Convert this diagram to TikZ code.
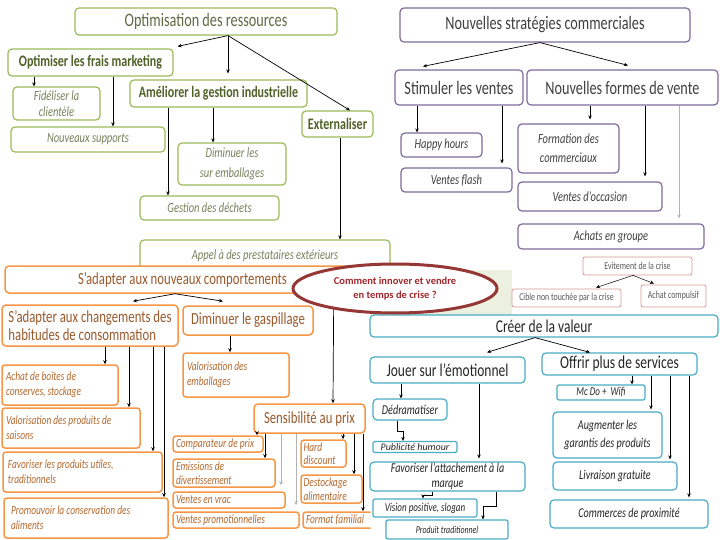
\documentclass[tikz,border=0pt]{standalone}
\usepackage{fontspec}
\setmainfont{Carlito}[FakeStretch=0.75]
\newfontfamily\plainf{Carlito}
\usetikzlibrary{arrows.meta,shapes.geometric}
\definecolor{grnB}{HTML}{9BBB59}
\definecolor{gTxt}{HTML}{5E6B45}
\definecolor{gDark}{HTML}{4F6228}
\definecolor{gIt}{HTML}{75835C}
\definecolor{purB}{HTML}{7F6A9B}
\definecolor{pTxt}{HTML}{404040}
\definecolor{orB}{HTML}{F79646}
\definecolor{oTxt}{HTML}{9A5A2C}
\definecolor{oIt}{HTML}{B5692E}
\definecolor{bluB}{HTML}{4BACC6}
\definecolor{bTxt}{HTML}{262626}
\definecolor{pinkB}{HTML}{D99694}
\definecolor{kTxt}{HTML}{595959}
\definecolor{ellB}{HTML}{953735}
\definecolor{ellT}{HTML}{A0282C}
\definecolor{bgG}{HTML}{EBF1DE}
\definecolor{arrGray}{HTML}{B3B3B3}
\begin{document}
\begin{tikzpicture}[x=1pt,y=-1pt,
  box/.style={rounded corners=4pt, fill=white, inner sep=0pt, align=center, line width=1.2pt},
  wh/.style 2 args={minimum width=#1pt, minimum height=#2pt},
  gb/.style={box, draw=grnB},
  pb/.style={box, draw=purB},
  ob/.style={box, draw=orB, line width=1.5pt},
  bb/.style={box, draw=bluB},
  kb/.style={box, draw=pinkB, line width=0.8pt, rounded corners=2pt},
  gT/.style={gb, text=gTxt, font=\fontsize{19}{22}\selectfont},
  gB/.style={gb, text=gDark, font=\bfseries\fontsize{16}{18}\selectfont},
  gI/.style={gb, text=gIt, font=\itshape\fontsize{14}{19}\selectfont},
  pT/.style={pb, text=pTxt, font=\fontsize{19}{22}\selectfont},
  pI/.style={pb, text=pTxt, font=\itshape\fontsize{14}{19}\selectfont},
  oT/.style={ob, text=oTxt, font=\fontsize{17}{18}\selectfont},
  oI/.style={ob, text=oIt, font=\itshape\fontsize{12.5}{15}\selectfont, align=flush left, rounded corners=3pt},
  bT/.style={bb, text=bTxt, font=\fontsize{18}{20}\selectfont},
  bI/.style={bb, text=bTxt, font=\itshape\fontsize{13.5}{18}\selectfont},
  kT/.style={kb, text=kTxt, font=\fontsize{10.5}{12}\selectfont},
  arr/.style={draw=black, line width=0.7pt, -{Stealth[length=4pt,width=3.5pt]}},
  garr/.style={arr, draw=arrGray},
]
\useasboundingbox (0,0) rectangle (720,540);
\fill[bgG] (370,270) rectangle (512,315);

% green group
\node[gT, wh={262}{27}] (opt) at (206,21.5) {Optimisation des ressources};
\node[gB, wh={165}{27}] (ofm) at (90.5,62.5) {Optimiser les frais marketing};
\node[gB, wh={177}{27}] (agi) at (218.5,93.5) {Améliorer la gestion industrielle};
\node[gB, wh={71}{26}] (ext) at (337.5,124) {Externaliser};
\node[gI, wh={87}{33}, font=\itshape\fontsize{14}{16}\selectfont] (fid) at (56.5,103.5) {Fidéliser la\\clientèle};
\node[gI, wh={154}{25}] (nsu) at (88,139.5) {Nouveaux supports};
\node[gI, wh={108}{42}, font=\itshape\fontsize{14}{20}\selectfont] (dim) at (232,164) {Diminuer les\\sur emballages};
\node[gI, wh={139}{24}] (ges) at (209.5,208) {Gestion des déchets};
\node[gI, wh={250}{32}] (app) at (265,256) {Appel à des prestataires extérieurs};

% purple group
\node[pT, wh={290}{34}] (nsc) at (545,25) {Nouvelles stratégies commerciales};
\node[pT, wh={128}{35}] (stv) at (459,87.5) {Stimuler les ventes};
\node[pT, wh={191}{35}] (nfv) at (622.5,87.5) {Nouvelles formes de vente};
\node[pI, wh={81}{24}] (hap) at (441.5,145) {Happy hours};
\node[pI, wh={111}{24}] (vfl) at (456.5,180) {Ventes flash};
\node[pI, wh={101}{49}] (fdc) at (568.5,148.5) {Formation des\\commerciaux};
\node[pI, wh={144}{29}] (voc) at (590,196.5) {Ventes d’occasion};
\node[pI, wh={186}{25}] (ach) at (611,236.5) {Achats en groupe};

% pink group
\node[kT, wh={109}{18}] (evi) at (637.5,266) {Evitement de la crise};
\node[kT, wh={109}{18}] (cib) at (566.5,298) {Cible non touchée par la crise};
\node[kT, wh={65}{22}] (acp) at (673.5,296) {Achat compulsif};

% blue group
\node[bT, wh={348}{22}] (cre) at (544,326) {Créer de la valeur};
\node[bT, wh={155}{26}] (jou) at (447.5,370) {Jouer sur l’émotionnel};
\node[bT, wh={155}{22}] (off) at (619.5,364) {Offrir plus de services};
\node[bI, wh={88}{15}, rounded corners=2pt, font=\itshape\fontsize{12}{14}\selectfont] (mcd) at (601,392.5) {Mc Do +\ \ Wifi};
\node[bI, wh={109}{46}] (aug) at (607.5,435) {Augmenter les\\garantis des produits};
\node[bI, wh={124}{28}] (liv) at (615,476) {Livraison gratuite};
\node[bI, wh={158}{28}] (com) at (629,514) {Commerces de proximité};
\node[bI, wh={74}{21}] (ded) at (410,409.5) {Dédramatiser};
\node[bI, wh={84}{11}, rounded corners=1.5pt, font=\plainf\itshape\fontsize{10}{10}\selectfont] (pub) at (415,447) {Publicité humour};
\node[bI, wh={155}{29}, font=\itshape\fontsize{13.5}{15}\selectfont] (fav) at (447.5,476.5) {Favoriser l’attachement à la\\marque};
\node[bI, wh={104}{18}, rounded corners=2pt, font=\itshape\fontsize{12}{14}\selectfont] (vis) at (425,508) {Vision positive, slogan};
\node[bI, wh={122}{19}, rounded corners=2pt, font=\itshape\fontsize{10.5}{12}\selectfont] (pro) at (447,529.5) {Produit traditionnel};

% orange group
\node[oT, wh={355}{27}] (san) at (182.5,279.5) {S’adapter aux nouveaux comportements};
\node[oT, wh={176}{41}, align=left, font=\fontsize{17}{18.5}\selectfont] (sac) at (90,325.5) {S’adapter aux changements des\\habitudes de consommation};
\node[oT, wh={130}{29}] (dig) at (248,320.5) {Diminuer le gaspillage};
\node[oI, wh={116}{40}, text width=108pt] (abc) at (60,385) {Achat de boîtes de\\conserves, stockage};
\node[oI, wh={106}{44}, text width=98pt] (vem) at (236,375) {Valorisation des\\emballages};
\node[oI, wh={138}{40}, text width=130pt] (vps) at (71,428) {Valorisation des produits de\\saisons};
\node[oI, wh={159}{40}, text width=149pt] (fpu) at (82.5,472) {Favoriser les produits utiles,\\traditionnels};
\node[oI, wh={164}{40}, text width=150pt] (pcv) at (86,518) {Promouvoir la conservation des\\aliments};
\node[oT, wh={111}{29}] (sen) at (309.5,418.5) {Sensibilité au prix};
\node[oI, wh={90}{16}, text width=84pt] (cmp) at (218,444) {Comparateur de prix};
\node[oI, wh={102}{28}, text width=96pt, font=\itshape\fontsize{12.5}{13.5}\selectfont] (emi) at (224,473) {Emissions de\\divertissement};
\node[oI, wh={112}{16}, text width=106pt] (vra) at (229,500) {Ventes en vrac};
\node[oI, wh={126}{16}, text width=120pt] (vpr) at (236,520) {Ventes promotionnelles};
\node[oI, wh={45}{27}, text width=40pt, font=\itshape\fontsize{12.5}{13.5}\selectfont] (har) at (323.5,453.5) {Hard\\discount};
\node[oI, wh={61}{28}, text width=56pt, font=\itshape\fontsize{12.5}{13.5}\selectfont] (des) at (331.5,489) {Destockage\\alimentaire};
\begin{scope}
\clip (0,0) rectangle (370.5,540);
\node[oI, wh={72}{16}, text width=66pt] (fmt) at (339,520) {Format familial};
\end{scope}

% green arrows
\draw[arr] ([xshift=22pt]opt.south) -- ([shift={(4pt,2pt)}]ofm.north east);
\draw[arr] ([xshift=22pt]opt.south) -- ([shift={(9.5pt,6pt)}]agi.north);
\draw[arr] ([xshift=22pt]opt.south) -- ([xshift=12.5pt]ext.north);
\draw[arr] ([xshift=-56.5pt]ofm.south) -- ([xshift=-22.5pt]fid.north);
\draw[arr] ([xshift=22.5pt]ofm.south) -- ([xshift=25pt]nsu.north);
\draw[arr] ([xshift=-50.5pt]agi.south) -- ([xshift=-41.5pt]ges.north);
\draw[arr] ([xshift=-5.5pt]agi.south) -- ([xshift=-19pt]dim.north);
\draw[arr] ([xshift=2.5pt]ext.south) -- ([xshift=75pt]app.north);

% purple arrows
\draw[arr] ([xshift=-5pt]nsc.south) -- ([shift={(-36pt,3pt)}]stv.north);
\draw[arr] ([xshift=-5pt]nsc.south) -- ([shift={(5.5pt,4pt)}]nfv.north);
\draw[arr] ([xshift=-42pt]stv.south) -- ([xshift=-24.5pt]hap.north);
\draw[arr] ([xshift=43pt]stv.south) -- ([shift={(45.5pt,4pt)}]vfl.north);
\draw[arr] ([xshift=-32.5pt]nfv.south) -- ([shift={(21.5pt,4pt)}]fdc.north);
\draw[arr] ([xshift=22.5pt]nfv.south) -- ([shift={(55pt,5pt)}]voc.north);
\draw[garr] ([xshift=56.5pt]nfv.south) -- ([shift={(68pt,5pt)}]ach.north);

% pink arrows
\draw[arr, line width=0.5pt] ([xshift=-4.5pt]evi.south) -- ([shift={(29.5pt,1pt)}]cib.north);
\draw[arr, line width=0.5pt] ([xshift=-4.5pt]evi.south) -- ([shift={(-19.5pt,1pt)}]acp.north);

% blue arrows
\draw[arr] ([xshift=-9pt]cre.south) -- ([shift={(39.5pt,4pt)}]jou.north);
\draw[arr] ([xshift=-9pt]cre.south) -- ([xshift=-29.5pt]off.north);
\draw[arr] ([xshift=-46.5pt]jou.south) -- ([xshift=-9pt]ded.north);
\draw[arr] ([xshift=31.5pt]jou.south) -- ([shift={(31.5pt,3pt)}]fav.north);
\draw[arr] ([xshift=-13pt]ded.south) -- ++(0,11) -| ([xshift=-12pt]pub.north);
\draw[arr] ([xshift=-15.5pt]fav.south) -- ++(0,4) -| ([xshift=-2pt]vis.north);
\draw[arr] ([xshift=48.5pt]fav.south) -- ++(0,15) -| ([xshift=36pt]pro.north);
\draw[arr] ([xshift=12.5pt]off.south) -- ([xshift=31pt]mcd.north);
\draw[arr] ([xshift=31.5pt]off.south) -- ([shift={(43.5pt,2pt)}]aug.north);
\draw[arr] ([xshift=50.5pt]off.south) -- ([shift={(55pt,2pt)}]liv.north);
\draw[arr] ([xshift=69.5pt]off.south) -- ([shift={(60pt,2pt)}]com.north);

% orange arrows
\draw[arr] ([xshift=-7.5pt]san.south) -- ([shift={(43pt,3pt)}]sac.north);
\draw[arr] ([xshift=-7.5pt]san.south) -- ([shift={(-25pt,4pt)}]dig.north);
\draw[arr] ([xshift=15pt]sac.south) -- ([xshift=45pt]abc.north);
\draw[arr] ([xshift=39pt]sac.south) -- ([xshift=58pt]vps.north);
\draw[arr] ([xshift=63pt]sac.south) -- ([xshift=70.5pt]fpu.north);
\draw[arr] ([xshift=74pt]sac.south) -- ([xshift=78pt]pcv.north);
\draw[arr] ([xshift=-18pt]dig.south) -- ([xshift=-6pt]vem.north);
\draw[arr] ([xshift=-27pt]san.south east) -- ([xshift=23.5pt]sen.north);
\draw[arr] ([xshift=-52.5pt]sen.south) -- ([xshift=39pt]cmp.north);
\draw[arr] ([xshift=-44.5pt]sen.south) -- ([xshift=41pt]emi.north);
\draw[garr] ([xshift=-28.5pt]sen.south) -- ([shift={(52pt,6pt)}]vra.north);
\draw[garr] ([xshift=-13.5pt]sen.south) -- ([shift={(60pt,6pt)}]vpr.north);
\draw[arr] ([xshift=33.5pt]sen.south) -- ([xshift=19.5pt]har.north);
\draw[arr] ([xshift=44.5pt]sen.south) -- ([xshift=22.5pt]des.north);
\draw[arr] ([xshift=53.5pt]sen.south) -- ([xshift=24pt]fmt.north);

% central question
\node[ellipse, draw=ellB, line width=3pt, fill=white, minimum width=204pt, minimum height=49pt, inner sep=0pt, align=center, text=ellT, font=\plainf\bfseries\fontsize{10.5}{14}\selectfont] (q) at (395,288.5) {Comment innover et vendre\\en temps de crise ?};
\end{tikzpicture}
\end{document}
